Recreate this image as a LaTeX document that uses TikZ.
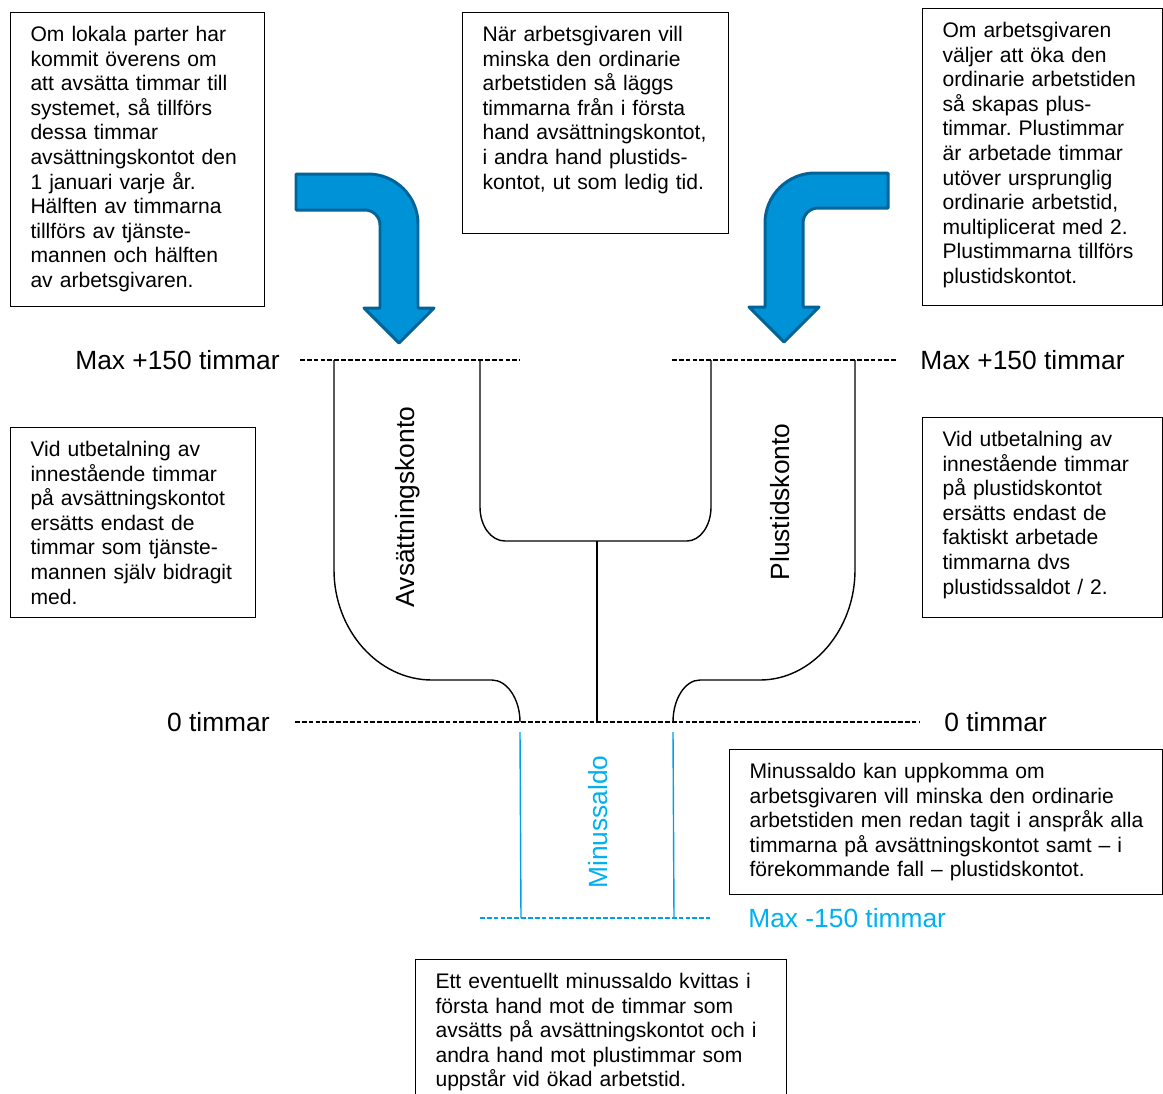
\documentclass[tikz,border=0pt]{standalone}
\usepackage{fontspec}
\setmainfont{Liberation Sans}
\usepackage{tikz}
\usetikzlibrary{positioning}
\frenchspacing
\definecolor{pilbla}{RGB}{0,146,214}
\definecolor{pilkant}{RGB}{0,100,152}
\definecolor{minusbla}{RGB}{0,160,228}
\definecolor{minustext}{RGB}{0,176,240}
\tikzstyle{ruta}=[
        draw,
        rectangle,
        anchor=north west,
        line width=0.6pt,
        inner xsep=0.4cm,
        inner ysep=0pt,
        text height=0.58cm,
        align=left,
        font=\fontsize{12}{14}\selectfont
]
\tikzstyle{etikett}=[inner sep=0pt,font=\fontsize{15}{18}\selectfont]
\tikzstyle{konto}=[inner sep=0pt,rotate=90,font=\fontsize{15}{18}\selectfont]
\tikzstyle{niva}=[dash pattern=on 2.7pt off 1.2pt,line width=0.7pt]
\tikzstyle{kanal}=[line width=0.8pt,line join=round]
\tikzstyle{pil}=[draw=pilkant,fill=pilbla,line width=1.7pt,line join=round]

\begin{document}
\begin{tikzpicture}[x=0.02cm,y=-0.02cm]
\useasboundingbox (0,0) rectangle (1163,1093);
% textrutor
\node[ruta,text width=4.28cm,text depth=5.30cm] (lokala) at (10,12)
  {Om lokala parter har\\kommit överens om\\att avsätta timmar till\\systemet, så tillförs\\dessa timmar\\avsättningskontot den\\1 januari varje år.\\Hälften av timmarna\\tillförs av tjänste-\\mannen och hälften\\av arbetsgivaren.};
\node[ruta,text width=4.52cm,text depth=3.84cm] (minska) at (462,12)
  {När arbetsgivaren vill\\minska den ordinarie\\arbetstiden så läggs\\timmarna från i första\\hand avsättningskontot,\\i andra hand plustids-\\kontot, ut som ledig tid.};
\node[ruta,text width=4.0cm,text depth=5.36cm] (oka) at (922,8)
  {Om arbetsgivaren\\väljer att öka den\\ordinarie arbetstiden\\så skapas plus-\\timmar. Plustimmar\\är arbetade timmar\\utöver ursprunglig\\ordinarie arbetstid,\\multiplicerat med 2.\\Plustimmarna tillförs\\plustidskontot.};
\node[ruta,text width=4.1cm,text depth=3.22cm] (utbetA) at (10,427)
  {Vid utbetalning av\\innestående timmar\\på avsättningskontot\\ersätts endast de\\timmar som tjänste-\\mannen själv bidragit\\med.};
\node[ruta,text width=4.0cm,text depth=3.42cm] (utbetP) at (922,417)
  {Vid utbetalning av\\innestående timmar\\på plustidskontot\\ersätts endast de\\faktiskt arbetade\\timmarna dvs\\plustidssaldot / 2.};
\node[ruta,text width=7.86cm,text depth=2.32cm] (minus) at (729,749)
  {Minussaldo kan uppkomma om\\arbetsgivaren vill minska den ordinarie\\\mbox{arbetstiden men redan tagit i anspråk alla}\\timmarna på avsättningskontot samt -- i\\förekommande fall -- plustidskontot.};
\node[ruta,text width=6.62cm,text depth=3.0cm] (kvitt) at (415,959)
  {Ett eventuellt minussaldo kvittas i\\första hand mot de timmar som\\avsätts på avsättningskontot och i\\andra hand mot plustimmar som\\uppstår vid ökad arbetstid.};
% pilar
\draw[pil] (296,174) -- (368,174) .. controls (395.6,174) and (418,196.4) .. (418,224)
  -- (418,308) -- (434,308) -- (399,343) -- (364,308) -- (380,308) -- (380,225)
  .. controls (380,216.7) and (373.3,210) .. (365,210) -- (296,210) -- cycle;
\draw[pil] (888,173) -- (815,173) .. controls (787.4,173) and (765,195.4) .. (765,223)
  -- (765,307) -- (749,307) -- (784,342) -- (819,307) -- (803,307) -- (803,223)
  .. controls (803,214.7) and (809.7,208) .. (818,208) -- (888,208) -- cycle;
% nivåer
\coordinate (maxV) at (300,360);
\coordinate (maxVs) at (520,360);
\coordinate (maxHs) at (672,360);
\coordinate (maxH) at (898,360);
\coordinate (nollV) at (295,722);
\coordinate (nollH) at (920,722);
\coordinate (minV) at (480,918);
\coordinate (minH) at (710,918);
\draw[niva] (maxV) -- (maxVs);
\draw[niva] (maxHs) -- (maxH);
\draw[niva] (nollV) -- (nollH);
\draw[niva,minusbla] (minV) -- (minH);
\node[etikett,left=0.4cm of maxV] (maxVtext) {Max +150 timmar};
\node[etikett,right=0.44cm of maxH] (maxHtext) {Max +150 timmar};
\node[etikett,left=0.5cm of nollV] (nollVtext) {0 timmar};
\node[etikett,right=0.48cm of nollH] (nollHtext) {0 timmar};
\node[etikett,right=0.76cm of minH,text=minustext] (minHtext) {Max -150 timmar};
% kanaler
\draw[kanal] (334,360) -- (334,570) .. controls (334,630) and (378,680) .. (432,680)
  -- (492,680) .. controls (507,680) and (520,699) .. (520,722);
\draw[kanal] (480,360) -- (480,507) .. controls (480,526) and (491,541) .. (505,541)
  -- (687,541) .. controls (700,541) and (711,526) .. (711,507) -- (711,360);
\draw[kanal] (597,541) -- (597,722);
\draw[kanal] (855,360) -- (855,570) .. controls (855,630) and (812,680) .. (760,680)
  -- (700,680) .. controls (685,680) and (673,699) .. (673,722);
\draw[kanal,minusbla] (520,732) -- (521,918);
\draw[kanal,minusbla] (673,732) -- (674,918);
\node[konto] (avs) at (408,507) {Avsättningskonto};
\node[konto] (plus) at (780,502) {Plustidskonto};
\node[konto,text=minustext] (minussaldo) at (598,822) {Minussaldo};
\end{tikzpicture}
\end{document}
